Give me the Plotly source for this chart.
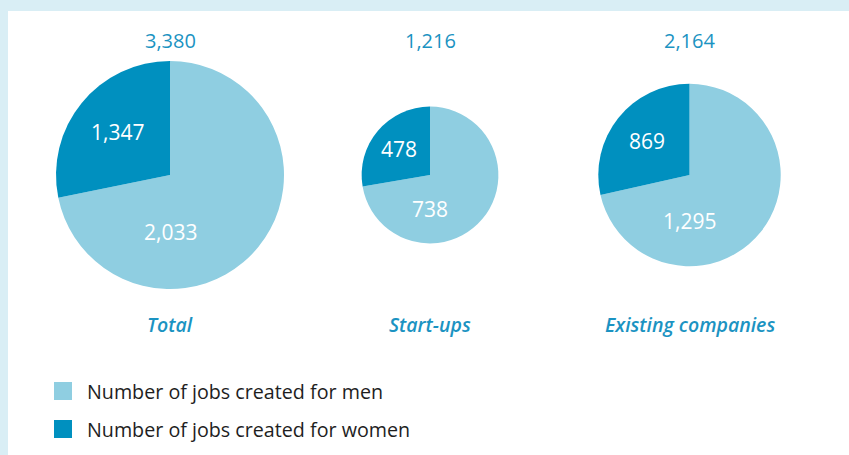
import math
import plotly.graph_objects as go

# ---- data ----
categories = ["Total", "Start-ups", "Existing companies"]
series_names = ["Number of jobs created for men", "Number of jobs created for women"]
men = [2033, 738, 1295]
women = [1347, 478, 869]
# slice shares as drawn in the reference picture
men_share_drawn = [0.718, 0.723, 0.715]
women_share_drawn = [0.282, 0.277, 0.285]

# ---- style ----
W, H = 849, 455
COL_MEN = "#8fcee1"
COL_WOMEN = "#0090bf"
COL_ACCENT = "#1b93c2"
COL_FRAME = "#d9eef5"
FONT = "Open Sans"

centers_x = [170, 430, 689.5]   # pixel centres of the pies
center_y = 175
R_MAX = 114
WOMEN_LABEL_R = 0.6
MEN_LABEL_R = 0.5

totals = [w + m for w, m in zip(women, men)]
max_total = max(totals)

fig = go.Figure()

def px(x):
    return x / W

def py(y):
    return 1 - y / H

def note(x, y, text, size, color, anchor="center", weight=None):
    font = dict(family=FONT, size=size, color=color)
    if weight:
        font["weight"] = weight
    fig.add_annotation(x=px(x), y=py(y), xref="paper", yref="paper",
                       text=text, showarrow=False, xanchor=anchor,
                       yanchor="middle", font=font)

for i, cat in enumerate(categories):
    r = R_MAX * (totals[i] / max_total) ** 0.5
    cx = centers_x[i]
    fig.add_trace(go.Pie(
        labels=series_names,
        values=[men_share_drawn[i], women_share_drawn[i]],
        customdata=[men[i], women[i]],
        sort=False,
        direction="counterclockwise",
        rotation=0,
        marker=dict(colors=[COL_MEN, COL_WOMEN], line=dict(width=0)),
        textinfo="none",
        domain=dict(x=[px(cx - r), px(cx + r)],
                    y=[py(center_y + r), py(center_y - r)]),
        showlegend=False,
        hovertemplate="%{label}: %{customdata:,}<extra></extra>",
        name=cat,
    ))
    # value labels inside slices
    half = women_share_drawn[i] * math.pi  # mid-angle of women slice (ccw from top)
    wx = cx - math.sin(half) * r * WOMEN_LABEL_R
    wy = center_y - math.cos(half) * r * WOMEN_LABEL_R
    note(wx, wy, f"{women[i]:,}", 21, "white")
    note(cx, center_y + r * MEN_LABEL_R, f"{men[i]:,}", 21, "white")
    # total above the pie
    note(cx, 40, f"{totals[i]:,}", 20, COL_ACCENT)
    # category title
    note(cx, 324, f"<i>{cat}</i>", 19.5, COL_ACCENT, weight=600)

# frame: light band on top and left, white content area
shapes = [
    dict(type="rect", xref="paper", yref="paper", x0=0, x1=1, y0=0, y1=1,
         fillcolor=COL_FRAME, line=dict(width=0), layer="below"),
    dict(type="rect", xref="paper", yref="paper", x0=px(8), x1=1, y0=0, y1=py(11),
         fillcolor="white", line=dict(width=0), layer="below"),
]

# legend (men first, then women)
legend_items = [(series_names[0], COL_MEN), (series_names[1], COL_WOMEN)]
legend_y = [391, 429]
for (name, col), ly in zip(legend_items, legend_y):
    shapes.append(dict(type="rect", xref="paper", yref="paper",
                       x0=px(54), x1=px(72), y0=py(ly + 9), y1=py(ly - 9),
                       fillcolor=col, line=dict(width=0)))
    note(85, ly, name, 19.7, "#1e1e1e", anchor="left")

fig.update_layout(
    width=W, height=H,
    margin=dict(l=0, r=0, t=0, b=0),
    paper_bgcolor="white",
    shapes=shapes,
    showlegend=False,
)

fig.write_html("out.html", config={"displayModeBar": False},
               post_script="document.body.style.margin='0';")
